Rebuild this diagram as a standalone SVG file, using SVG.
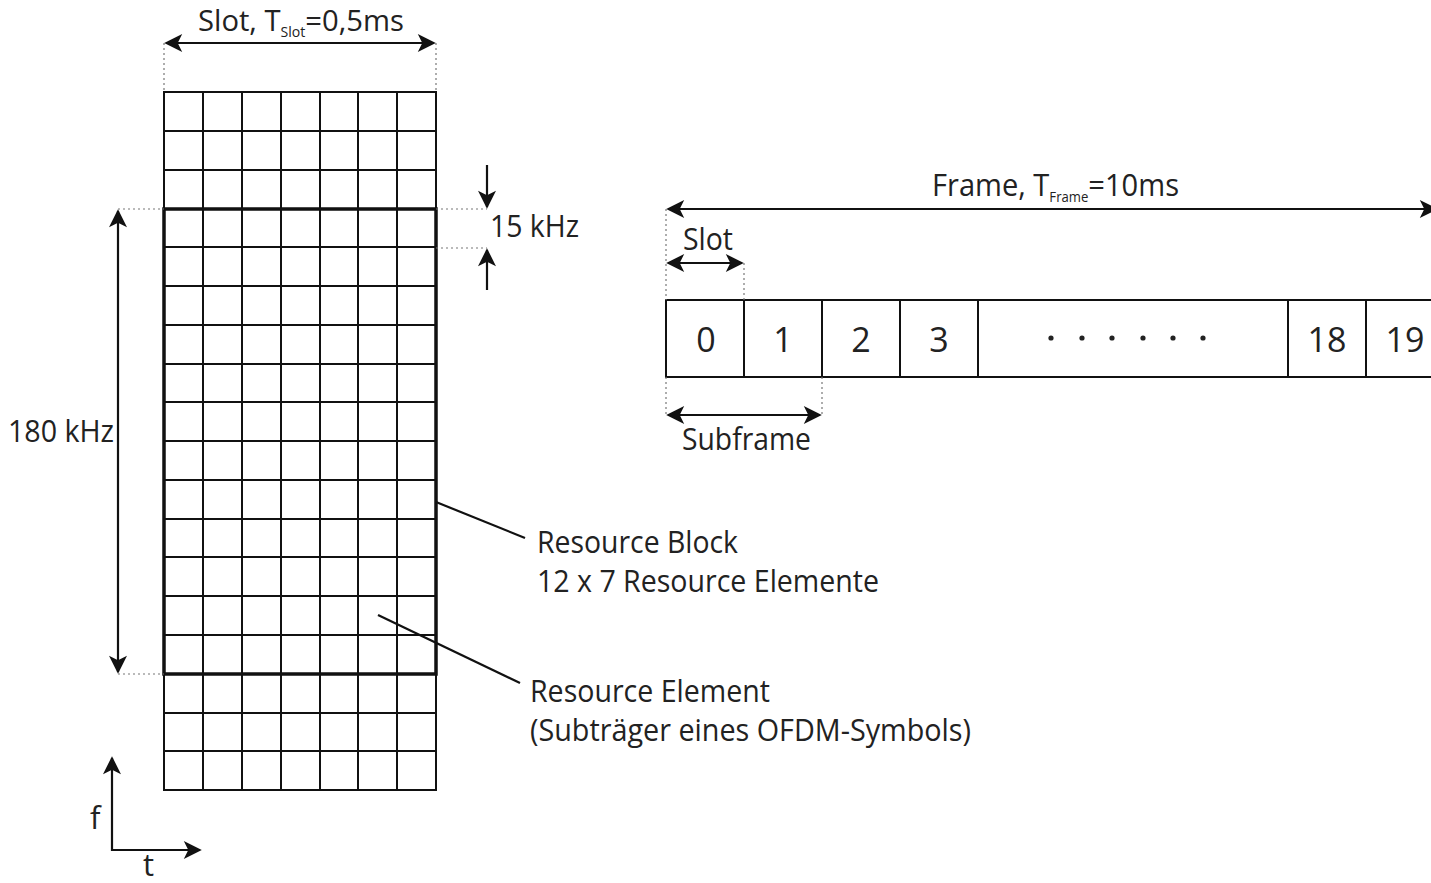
<svg xmlns="http://www.w3.org/2000/svg" width="1431" height="883" viewBox="0 0 1431 883">
<defs>
<marker id="ahb" viewBox="0 0 10 10" refX="9" refY="5" markerWidth="22" markerHeight="18" markerUnits="userSpaceOnUse" orient="auto-start-reverse"><path d="M0,0 L10,5 L0,10 L2.5,5 Z" fill="#111"/></marker>
</defs>
<style>
text{font-family:"Open Sans","Liberation Sans",sans-serif;fill:#222;font-size:31px}
.top{font-size:29px}
.num{font-size:34px}
.g{stroke:#111;stroke-width:2;fill:none}
.thick{stroke:#111;stroke-width:3.5;fill:none}
.dot{stroke:#777;stroke-width:1.2;stroke-dasharray:2,3;fill:none}
.arr{stroke:#111;stroke-width:2.2;fill:none}
.sub{font-size:14px}
</style>
<rect width="1431" height="883" fill="#fff"/>
<g id="grid">
<rect x="164" y="92" width="272" height="698" class="g"/>
<path class="g" d="M203,92V790M242,92V790M281,92V790M320,92V790M358,92V790M397,92V790
M164,131H436M164,170H436M164,209H436M164,247H436M164,286H436M164,325H436M164,364H436M164,402H436M164,441H436M164,480H436M164,519H436M164,557H436M164,596H436M164,635H436M164,674H436M164,713H436M164,751H436"/>
</g>
<g id="resource-block">
<rect x="164" y="209" width="272" height="465" class="thick"/>
</g>
<g id="frame">
<rect x="666" y="300" width="780" height="77" class="g"/>
<path class="g" d="M744,300V377M822,300V377M900,300V377M978,300V377M1288,300V377M1366,300V377"/>
<text class="num" x="706" y="352" text-anchor="middle">0</text>
<text class="num" x="783" y="352" text-anchor="middle">1</text>
<text class="num" x="861" y="352" text-anchor="middle">2</text>
<text class="num" x="939" y="352" text-anchor="middle">3</text>
<text class="num" x="1327" y="352" text-anchor="middle">18</text>
<text class="num" x="1405" y="352" text-anchor="middle">19</text>
<g fill="#222"><circle cx="1051" cy="338" r="2.6"/><circle cx="1082" cy="338" r="2.6"/><circle cx="1112" cy="338" r="2.6"/><circle cx="1143" cy="338" r="2.6"/><circle cx="1173" cy="338" r="2.6"/><circle cx="1203" cy="338" r="2.6"/></g>
</g>
<g id="connectors">
<path class="dot" d="M164,43V92M436,43V92M436,209H487M436,248H487M118,209H164M118,674H164M666,209V300M744,263V300M666,377V415M822,377V415"/>
<path class="arr" d="M166,43H434" marker-start="url(#ahb)" marker-end="url(#ahb)"/>
<path class="arr" d="M487,165V207" marker-end="url(#ahb)"/>
<path class="arr" d="M487,290V250" marker-end="url(#ahb)"/>
<path class="arr" d="M118,211V672" marker-start="url(#ahb)" marker-end="url(#ahb)"/>
<path class="arr" d="M668,209H1436" marker-start="url(#ahb)" marker-end="url(#ahb)"/>
<path class="arr" d="M668,263H742" marker-start="url(#ahb)" marker-end="url(#ahb)"/>
<path class="arr" d="M668,415H820" marker-start="url(#ahb)" marker-end="url(#ahb)"/>
<path class="arr" d="M436,502L525,538"/>
<path class="arr" d="M378,615L520,683"/>
<path class="arr" d="M112,758V850H200" marker-start="url(#ahb)" marker-end="url(#ahb)"/>
</g>
<g id="labels">
<text class="top" x="198" y="31" textLength="206" lengthAdjust="spacingAndGlyphs">Slot, T<tspan class="sub" dy="6">Slot</tspan><tspan dy="-6">=0,5ms</tspan></text>
<text x="490" y="237" textLength="89" lengthAdjust="spacingAndGlyphs">15 kHz</text>
<text x="8" y="442" textLength="106" lengthAdjust="spacingAndGlyphs">180 kHz</text>
<text x="932" y="196" textLength="247" lengthAdjust="spacingAndGlyphs">Frame, T<tspan class="sub" dy="6">Frame</tspan><tspan dy="-6">=10ms</tspan></text>
<text x="683" y="250" textLength="50" lengthAdjust="spacingAndGlyphs">Slot</text>
<text x="682" y="450" textLength="129" lengthAdjust="spacingAndGlyphs">Subframe</text>
<text x="537" y="553" textLength="201" lengthAdjust="spacingAndGlyphs">Resource Block</text>
<text x="537" y="592" textLength="342" lengthAdjust="spacingAndGlyphs">12 x 7 Resource Elemente</text>
<text x="530" y="702" textLength="240" lengthAdjust="spacingAndGlyphs">Resource Element</text>
<text x="530" y="741" textLength="441" lengthAdjust="spacingAndGlyphs">(Subträger eines OFDM-Symbols)</text>
<text x="90" y="829">f</text>
<text x="143" y="876">t</text>
</g>
</svg>
